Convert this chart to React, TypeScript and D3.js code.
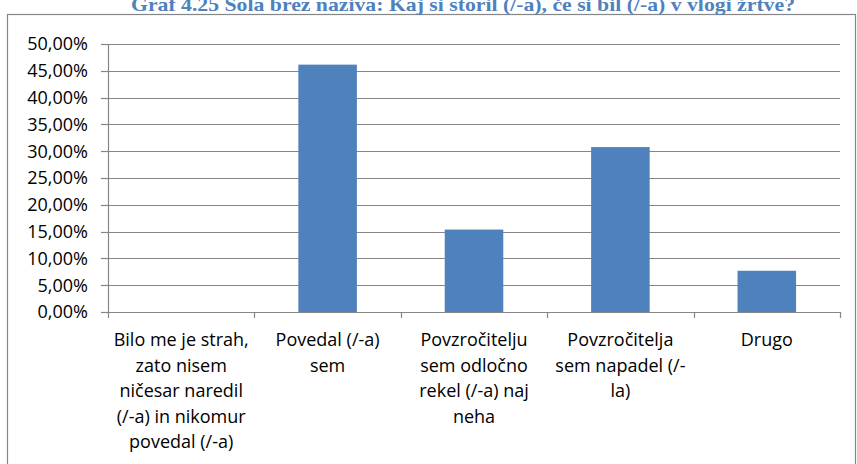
import React, { useEffect } from "react";
import * as d3 from "d3";

const title = "Graf 4.25 Šola brez naziva: Kaj si storil (/-a), če si bil (/-a) v vlogi žrtve?";

const categoryLines: string[][] = [
  ["Bilo me je strah,", "zato nisem", "ničesar naredil", "(/-a) in nikomur", "povedal (/-a)"],
  ["Povedal (/-a)", "sem"],
  ["Povzročitelju", "sem odločno", "rekel (/-a) naj", "neha"],
  ["Povzročitelja", "sem napadel (/-", "la)"],
  ["Drugo"],
];
const categories = categoryLines.map((l) => l.join(" "));
const values = [0, 0.4615, 0.1538, 0.3077, 0.0769];
const yTicks = [0, 0.05, 0.1, 0.15, 0.2, 0.25, 0.3, 0.35, 0.4, 0.45, 0.5];

const W = 857;
const H = 464;
const plot = { left: 108, right: 840, top: 44, bottom: 312 };

export default function App() {
  useEffect(() => {
    document.body.style.margin = "0";
  }, []);

  const x = d3
    .scaleBand<string>()
    .domain(categories)
    .range([plot.left, plot.right])
    .paddingInner(0.6)
    .paddingOuter(0.3);
  const y = d3.scaleLinear().domain([0, 0.5]).range([plot.bottom, plot.top]);
  const step = x.step();
  const fmt = (v: number) => (v * 100).toFixed(2).replace(".", ",") + "%";
  const axisColor = "#868686";
  const font = "'Open Sans', 'Noto Sans', sans-serif";
  const boundaries = d3.range(categories.length + 1).map((i) => plot.left + i * step);

  return (
    <svg width={W} height={H} style={{ display: "block", background: "#fff" }}>
      <rect x={7.5} y={14.5} width={848} height={460} fill="#fff" stroke={axisColor} strokeWidth={1.2} />
      <text
        x={463}
        y={11}
        textAnchor="middle"
        fontFamily="'Liberation Serif', 'Times New Roman', serif"
        fontWeight="bold"
        fontSize={19}
        fill="#4F81BD"
        textLength={664}
        lengthAdjust="spacingAndGlyphs"
      >
        {title}
      </text>
      {yTicks.map((t) => (
        <g key={t}>
          {t > 0 && (
            <line
              x1={plot.left}
              x2={plot.right}
              y1={Math.round(y(t)) + 0.5}
              y2={Math.round(y(t)) + 0.5}
              stroke={axisColor}
              strokeWidth={1.2}
            />
          )}
          <line
            x1={plot.left - 7}
            x2={plot.left}
            y1={Math.round(y(t)) + 0.5}
            y2={Math.round(y(t)) + 0.5}
            stroke={axisColor}
            strokeWidth={1.2}
          />
          <text
            x={88}
            y={y(t)}
            dy="0.36em"
            textAnchor="end"
            fontFamily={font}
            fontSize={18}
            fill="#000"
          >
            {fmt(t)}
          </text>
        </g>
      ))}
      {categories.map((c, i) => (
        <rect
          key={c}
          x={x(c)}
          y={y(values[i])}
          width={x.bandwidth()}
          height={plot.bottom - y(values[i])}
          fill="#4F81BD"
        />
      ))}
      <line
        x1={plot.left + 0.5}
        x2={plot.left + 0.5}
        y1={plot.top}
        y2={plot.bottom}
        stroke={axisColor}
        strokeWidth={1.2}
      />
      <line
        x1={plot.left}
        x2={plot.right}
        y1={plot.bottom + 0.5}
        y2={plot.bottom + 0.5}
        stroke={axisColor}
        strokeWidth={1.2}
      />
      {boundaries.map((bx, i) => (
        <line
          key={i}
          x1={Math.round(bx) + 0.5}
          x2={Math.round(bx) + 0.5}
          y1={plot.bottom}
          y2={plot.bottom + 6}
          stroke={axisColor}
          strokeWidth={1.2}
        />
      ))}
      {categoryLines.map((lines, i) => (
        <text
          key={i}
          x={(x(categories[i]) as number) + x.bandwidth() / 2}
          y={346}
          textAnchor="middle"
          fontFamily={font}
          fontSize={18}
          fill="#000"
        >
          {lines.map((ln, j) => (
            <tspan key={j} x={(x(categories[i]) as number) + x.bandwidth() / 2} y={346 + j * 25.6}>
              {ln}
            </tspan>
          ))}
        </text>
      ))}
    </svg>
  );
}
